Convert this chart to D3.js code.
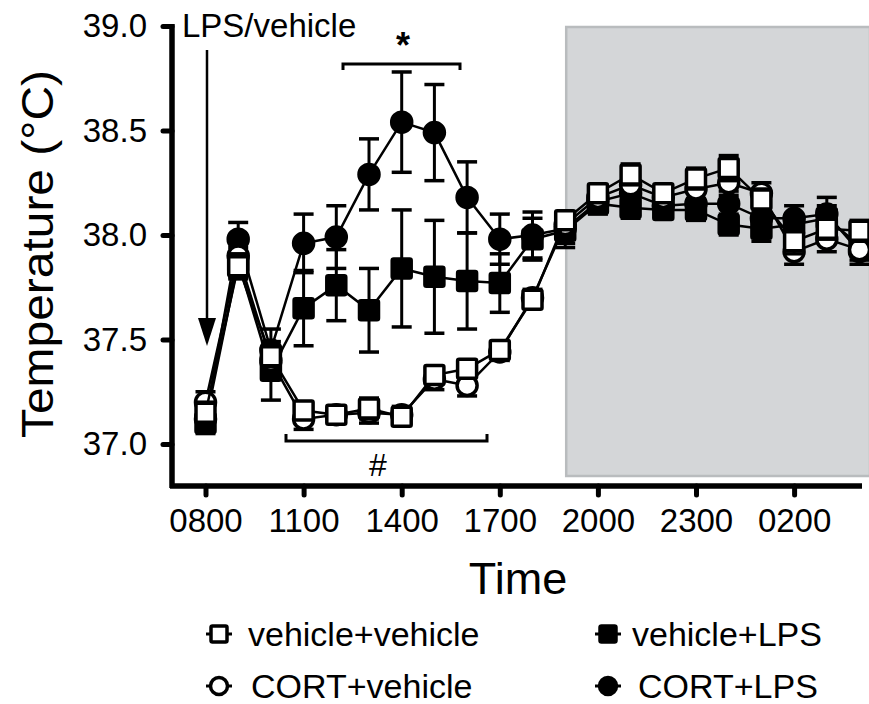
<!DOCTYPE html>
<html><head><meta charset="utf-8">
<script src="https://cdn.jsdelivr.net/npm/d3@7"></script>
<style>
html,body{margin:0;padding:0;background:#fff;}
svg text{font-family:"Liberation Sans",Arial,Helvetica,sans-serif;fill:#000;}
</style></head>
<body>
<svg id="chart" width="869" height="704"></svg>
<script>
// ---- data ----
const times = ["0800","0900","1000","1100","1200","1300","1400","1500","1600","1700","1800","1900","2000","2100","2200","2300","0000","0100","0200","0300","0400"];
const tickLabels = ["0800","1100","1400","1700","2000","2300","0200"];
const yTicks = [37.0, 37.5, 38.0, 38.5, 39.0];
const darkStart = "1900";

const vehVehMean = [37.15,37.85,37.42,37.16,37.14,37.17,37.13,37.33,37.36,37.45,37.69,38.07,38.20,38.29,38.20,38.27,38.32,38.17,37.97,38.03,38.02];
const vehVehSem  = [0.05,0.06,0.05,0.04,0.03,0.05,0.03,0.04,0.04,0.03,0.03,0.04,0.04,0.05,0.04,0.05,0.06,0.05,0.06,0.05,0.05];
const cortVehMean = [37.20,37.90,37.40,37.12,37.14,37.15,37.14,37.31,37.28,37.44,37.70,38.05,38.18,38.24,38.18,38.22,38.25,38.20,37.92,37.98,37.93];
const cortVehSem  = [0.05,0.06,0.06,0.05,0.03,0.05,0.04,0.05,0.05,0.04,0.04,0.05,0.04,0.05,0.04,0.05,0.06,0.05,0.06,0.06,0.05];
const vehLpsMean = [37.10,37.87,37.35,37.65,37.76,37.64,37.84,37.80,37.78,37.77,37.98,38.02,38.15,38.13,38.12,38.12,38.05,38.03,38.05,38.08,37.95];
const vehLpsSem  = [0.05,0.07,0.14,0.18,0.17,0.20,0.28,0.27,0.23,0.14,0.10,0.08,0.05,0.05,0.04,0.05,0.05,0.06,0.05,0.06,0.05];
const cortLpsMean = [37.12,37.98,37.45,37.96,37.99,38.29,38.54,38.49,38.18,37.98,38.00,38.03,38.16,38.20,38.14,38.15,38.15,38.08,38.08,38.10,37.92];
const cortLpsSem  = [0.05,0.08,0.10,0.14,0.15,0.17,0.24,0.23,0.17,0.12,0.11,0.07,0.05,0.06,0.04,0.05,0.06,0.06,0.06,0.08,0.06];

const seriesNames = ["vehicle+vehicle","vehicle+LPS","CORT+vehicle","CORT+LPS"];

const series = [
  {name:"CORT+LPS", mean:cortLpsMean, sem:cortLpsSem, shape:"circle", filled:true},
  {name:"vehicle+LPS", mean:vehLpsMean, sem:vehLpsSem, shape:"square", filled:true},
  {name:"CORT+vehicle", mean:cortVehMean, sem:cortVehSem, shape:"circle", filled:false},
  {name:"vehicle+vehicle", mean:vehVehMean, sem:vehVehSem, shape:"square", filled:false}
];

// ---- scales ----
const svg = d3.select("#chart");
const x = d3.scaleLinear().domain([0, times.length-1]).range([205.5, 859.5]);
const y = d3.scaleLinear().domain([37, 39]).range([444, 26]);
const axisX = 172, axisY = 486;

// dark-phase shading
const xi = t => times.indexOf(t);
svg.append("rect")
  .attr("x", x(xi(darkStart)) + 1).attr("y", y(39) + 1)
  .attr("width", 869 - x(xi(darkStart))).attr("height", 476 - y(39) - 1)
  .attr("fill", "#d4d6d8").attr("stroke", "#b9bcbe").attr("stroke-width", 2.5);

// ---- axes ----
const yAxis = d3.axisLeft(y).tickValues(yTicks).tickSize(9).tickPadding(16).tickFormat(d3.format(".1f"));
const gy = svg.append("g").attr("transform", `translate(${axisX},0)`).call(yAxis);
gy.select(".domain").remove();
gy.selectAll(".tick line").attr("stroke","#000").attr("stroke-width",5).attr("stroke-linecap","round");
gy.selectAll(".tick text").attr("font-size",33).attr("font-family","'Liberation Sans',Arial,sans-serif").attr("fill","#000");
svg.append("line").attr("x1",axisX).attr("x2",axisX).attr("y1",y(39)-2).attr("y2",axisY+2)
  .attr("stroke","#000").attr("stroke-width",5.5);

const xAxis = d3.axisBottom(x).tickValues(tickLabels.map(t => xi(t))).tickSize(9).tickPadding(14)
  .tickFormat(i => times[i]);
const gx = svg.append("g").attr("transform", `translate(0,${axisY})`).call(xAxis);
gx.select(".domain").remove();
gx.selectAll(".tick line").attr("stroke","#000").attr("stroke-width",5).attr("stroke-linecap","round");
gx.selectAll(".tick text").attr("font-size",33).attr("font-family","'Liberation Sans',Arial,sans-serif").attr("fill","#000");
svg.append("line").attr("x1",axisX-2).attr("x2",862).attr("y1",axisY).attr("y2",axisY)
  .attr("stroke","#000").attr("stroke-width",5.5);

// axis titles
svg.append("text").attr("x",518).attr("y",594).attr("text-anchor","middle").attr("font-size",45).text("Time");
svg.append("text").attr("transform","translate(53,254) rotate(-90)").attr("text-anchor","middle")
  .attr("font-size",44).attr("textLength",368).attr("lengthAdjust","spacingAndGlyphs").text("Temperature (°C)");

// ---- series ----
const line = d3.line().x((d,i)=>x(i)).y(d=>y(d));
const capW = 10;
series.forEach(s => {
  const g = svg.append("g");
  s.mean.forEach((m,i) => {
    const top = y(m + s.sem[i]), bot = y(m - s.sem[i]), cx = x(i);
    g.append("line").attr("x1",cx).attr("x2",cx).attr("y1",top).attr("y2",bot).attr("stroke","#000").attr("stroke-width",3);
    g.append("line").attr("x1",cx-capW).attr("x2",cx+capW).attr("y1",top).attr("y2",top).attr("stroke","#000").attr("stroke-width",3.5);
    g.append("line").attr("x1",cx-capW).attr("x2",cx+capW).attr("y1",bot).attr("y2",bot).attr("stroke","#000").attr("stroke-width",3.5);
  });
  g.append("path").datum(s.mean).attr("d",line).attr("fill","none").attr("stroke","#000").attr("stroke-width",2.5);
  s.mean.forEach((m,i) => {
    if (s.shape === "square") {
      g.append("rect").attr("x",x(i)-9.5).attr("y",y(m)-9.5).attr("width",19).attr("height",19).attr("rx",1.5)
        .attr("fill", s.filled ? "#000" : "#fff").attr("stroke","#000").attr("stroke-width",3.5);
    } else {
      g.append("circle").attr("cx",x(i)).attr("cy",y(m)).attr("r",10)
        .attr("fill", s.filled ? "#000" : "#fff").attr("stroke","#000").attr("stroke-width",3.5);
    }
  });
});

// ---- annotations ----
svg.append("text").attr("x",182).attr("y",37).attr("font-size",33).text("LPS/vehicle");
svg.append("line").attr("x1",207).attr("x2",207).attr("y1",50).attr("y2",322).attr("stroke","#000").attr("stroke-width",2.5);
svg.append("path").attr("d","M198,318 L216,318 L207,346 Z").attr("fill","#000");

// * bracket
svg.append("path").attr("d","M343,70 L343,64 L460,64 L460,70").attr("fill","none").attr("stroke","#000").attr("stroke-width",3);
svg.append("text").attr("x",403).attr("y",58).attr("text-anchor","middle").attr("font-size",36).attr("font-weight","bold").text("*");
// # bracket
svg.append("path").attr("d","M286,434 L286,441 L487,441 L487,434").attr("fill","none").attr("stroke","#000").attr("stroke-width",3);
svg.append("text").attr("x",378).attr("y",476).attr("text-anchor","middle").attr("font-size",32).text("#");

// ---- legend ----
const legendItems = [
  {name:seriesNames[0], shape:"square", filled:false, lx:219, ly:634, tx:248},
  {name:seriesNames[1], shape:"square", filled:true,  lx:608, ly:634, tx:632},
  {name:seriesNames[2], shape:"circle", filled:false, lx:219, ly:686, tx:251},
  {name:seriesNames[3], shape:"circle", filled:true,  lx:608, ly:686, tx:638}
];
legendItems.forEach(it => {
  const g = svg.append("g");
  g.append("line").attr("x1",it.lx-13).attr("x2",it.lx+13).attr("y1",it.ly).attr("y2",it.ly).attr("stroke","#000").attr("stroke-width",3);
  if (it.shape === "square") {
    g.append("rect").attr("x",it.lx-8).attr("y",it.ly-8).attr("width",16).attr("height",16).attr("rx",1.5)
      .attr("fill", it.filled ? "#000" : "#fff").attr("stroke","#000").attr("stroke-width",3.5);
  } else {
    g.append("circle").attr("cx",it.lx).attr("cy",it.ly).attr("r",8.5)
      .attr("fill", it.filled ? "#000" : "#fff").attr("stroke","#000").attr("stroke-width",3.5);
  }
  g.append("text").attr("x",it.tx).attr("y",it.ly+12).attr("font-size",34).text(it.name);
});
</script>
</body></html>
